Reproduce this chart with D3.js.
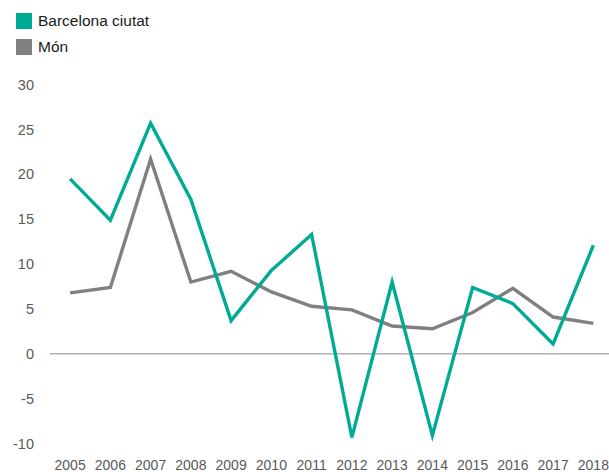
<!DOCTYPE html>
<html><head><meta charset="utf-8">
<script src="https://cdn.jsdelivr.net/npm/d3@7"></script>
<style>body{margin:0;background:#fff}svg{display:block}</style>
</head><body><svg id="c" width="609" height="472"></svg>
<script>
const years = ["2005","2006","2007","2008","2009","2010","2011","2012","2013","2014","2015","2016","2017","2018"];
const barcelona = [19.5,14.9,25.7,17.2,3.7,9.3,13.3,-9.3,8.0,-9.1,7.4,5.6,1.1,12.1];
const mon = [6.8,7.4,21.7,8.0,9.2,6.9,5.3,4.9,3.1,2.8,4.6,7.3,4.1,3.4];
const yTicks = [30,25,20,15,10,5,0,-5,-10];
const seriesNames = ["Barcelona ciutat","Món"];
const colors = ["#00AB94","#808080"];

const svg = d3.select("#c");
const font = "'Liberation Sans', Arial, sans-serif";
const x = d3.scaleBand().domain(years).range([50, 613.5]);
const y = d3.scaleLinear().domain([-10, 30]).range([443.6, 84.6]);

// y labels
svg.append("g").selectAll("text").data(yTicks).join("text")
  .attr("x", 34).attr("y", d => y(d)).attr("dy", "0.35em")
  .attr("text-anchor", "end").attr("font-family", font).attr("font-size", 14.5)
  .attr("fill", "#595959").text(d => d);

// x labels
svg.append("g").selectAll("text").data(years).join("text")
  .attr("x", d => x(d) + x.bandwidth()/2).attr("y", 465).attr("dy", "0.35em")
  .attr("text-anchor", "middle").attr("font-family", font).attr("font-size", 14)
  .attr("fill", "#595959").text(d => d);

// zero line
svg.append("line").attr("x1", 50).attr("x2", 609).attr("y1", y(0)).attr("y2", y(0))
  .attr("stroke", "#8c8c8c").attr("stroke-width", 1);

const line = d3.line().x((d,i) => x(years[i]) + x.bandwidth()/2).y(d => y(d));
[mon, barcelona].forEach((s, k) => {
  svg.append("path").datum(s).attr("d", line).attr("fill", "none")
    .attr("stroke", colors[1-k]).attr("stroke-width", 3.4).attr("stroke-linejoin", "miter");
});

// legend
const lg = svg.append("g");
seriesNames.forEach((n, i) => {
  lg.append("rect").attr("x", 16).attr("y", 13 + i*26).attr("width", 16).attr("height", 16).attr("fill", colors[i]);
  lg.append("text").attr("x", 38).attr("y", 21 + i*26).attr("dy", "0.35em")
    .attr("font-family", font).attr("font-size", 15.5).attr("fill", "#1a1a1a").text(n);
});
</script></body></html>
